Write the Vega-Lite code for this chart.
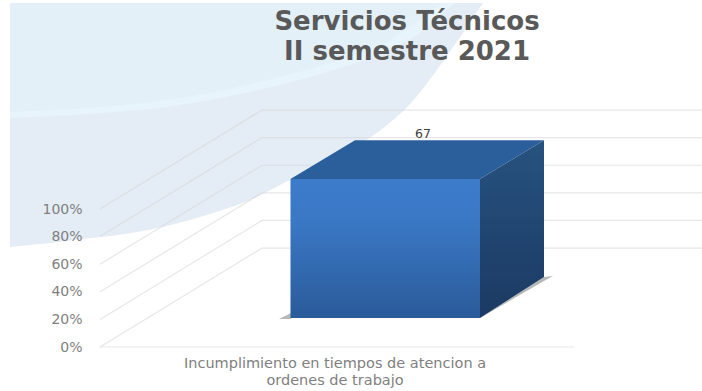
{"$schema":"https://vega.github.io/schema/vega-lite/v6.json","width":702,"height":391,"padding":0,"autosize":"none","background":"white","config":{"view":{"stroke":null}},
"encoding":{"x":{"field":"x","type":"quantitative","scale":{"domain":[0,702],"nice":false,"zero":false},"axis":null},"y":{"field":"v","type":"quantitative","title":null,"scale":{"domain":[-31.88,251.45],"nice":false,"zero":false},"axis":{"values":[0,20,40,60,80,100],"labelExpr":"datum.value + '%'","domain":false,"ticks":false,"grid":false,"offset":-82,"labelPadding":0,"zindex":1,"labelFont":"DejaVu Sans","labelFontSize":14,"labelColor":"#7f7f7f","title":null}},"y2":{"field":"v2"}},
"layer":[
{"data":{"values":[{"x":10,"v":72.5,"v2":249.3},{"x":50,"v":75.4,"v2":249.3},{"x":83,"v":78.3,"v2":249.3},{"x":125,"v":81.9,"v2":249.3},{"x":167,"v":87.7,"v2":249.3},{"x":210,"v":96.4,"v2":249.3},{"x":250,"v":106.5,"v2":249.3},{"x":290,"v":121,"v2":249.3},{"x":330,"v":135.5,"v2":249.3},{"x":371,"v":152.2,"v2":249.3},{"x":411,"v":176.8,"v2":249.3},{"x":451,"v":215.2,"v2":249.3},{"x":483,"v":249.3,"v2":249.3}]},"mark":{"type":"area","color":"#e4edf6","interpolate":"monotone"}},
{"data":{"values":[{"x":10,"v":165.9,"v2":249.3},{"x":100,"v":169.6,"v2":249.3},{"x":167,"v":173.9,"v2":249.3},{"x":220,"v":180.4,"v2":249.3},{"x":267,"v":187.7,"v2":249.3},{"x":310,"v":195.7,"v2":249.3},{"x":350,"v":204.3,"v2":249.3},{"x":384,"v":213.8,"v2":249.3},{"x":418,"v":226.8,"v2":249.3},{"x":440,"v":240.6,"v2":249.3},{"x":455,"v":249.3,"v2":249.3}]},"mark":{"type":"area","color":"#e7f4fb","interpolate":"monotone"}},
{"data":{"values":[{"x":10,"v":170.3,"v2":249.3},{"x":100,"v":173.9,"v2":249.3},{"x":167,"v":179,"v2":249.3},{"x":220,"v":185.5,"v2":249.3},{"x":267,"v":193.5,"v2":249.3},{"x":310,"v":201.4,"v2":249.3},{"x":350,"v":210.1,"v2":249.3},{"x":384,"v":219.6,"v2":249.3},{"x":410,"v":231.9,"v2":249.3},{"x":432,"v":244.2,"v2":249.3},{"x":443,"v":249.3,"v2":249.3}]},"mark":{"type":"area","color":"#e3f0f8","interpolate":"monotone"}},
{"data":{"values":[{"level":0,"x":100,"v":0},{"level":0,"x":262,"v":71.7},{"level":0,"x":702,"v":71.7},{"level":20,"x":100,"v":20},{"level":20,"x":262,"v":91.7},{"level":20,"x":702,"v":91.7},{"level":40,"x":100,"v":40},{"level":40,"x":262,"v":111.7},{"level":40,"x":702,"v":111.7},{"level":60,"x":100,"v":60},{"level":60,"x":262,"v":131.7},{"level":60,"x":702,"v":131.7},{"level":80,"x":100,"v":80},{"level":80,"x":262,"v":151.7},{"level":80,"x":702,"v":151.7},{"level":100,"x":100,"v":100},{"level":100,"x":262,"v":171.7},{"level":100,"x":702,"v":171.7}]},"mark":{"type":"line","color":"#d4d4d4","opacity":0.55,"strokeWidth":1.2},"encoding":{"detail":{"field":"level"},"y2":null}},
{"data":{"values":[{"x":100,"v":0},{"x":574,"v":0}]},"mark":{"type":"line","color":"#d4d4d4","opacity":0.55,"strokeWidth":1.2},"encoding":{"y2":null}},
{"data":{"values":[{"x":480,"v":21,"v2":21},{"x":544,"v":50.7,"v2":47.8},{"x":553,"v":51.4,"v2":51.4}]},"mark":{"type":"area","color":"#9a9a9a","opacity":0.7}},
{"data":{"values":[{"x":279,"v":20.3,"v2":20.3},{"x":291,"v":24.6,"v2":20.3}]},"mark":{"type":"area","color":"#9a9a9a","opacity":0.7}},
{"data":{"values":[{"x":290.5,"v":121.7,"v2":121.7},{"x":355,"v":149.9,"v2":121.7},{"x":480,"v":149.9,"v2":121.7},{"x":544,"v":149.9,"v2":149.9}]},"mark":{"type":"area","color":"#2b5f9c"}},
{"data":{"values":[{"x":480,"v":121.7,"v2":21},{"x":544,"v":149.9,"v2":50.7}]},"mark":{"type":"area","color":{"x1":0,"y1":0,"x2":0,"y2":1,"gradient":"linear","stops":[{"offset":0,"color":"#27527f"},{"offset":1,"color":"#1b3a63"}]}}},
{"data":{"values":[{"x":290.5,"x2":480,"v":121.7,"v2":21}]},"mark":{"type":"rect","color":{"x1":0,"y1":0,"x2":0,"y2":1,"gradient":"linear","stops":[{"offset":0,"color":"#3c7cca"},{"offset":0.3,"color":"#3a78c5"},{"offset":1,"color":"#2a5b9a"}]}},"encoding":{"x2":{"field":"x2"}}},
{"data":{"values":[{"x":423,"v":154.3,"label":"67"}]},"mark":{"type":"text","font":"DejaVu Sans","fontSize":12.5,"color":"#404040"},"encoding":{"text":{"field":"label"},"y2":null}},
{"data":{"values":[{"x":407,"v":235.5,"label":"Servicios Técnicos"},{"x":407,"v":213.8,"label":"II semestre 2021"}]},"mark":{"type":"text","font":"DejaVu Sans","fontWeight":"bold","fontSize":26,"color":"#595959"},"encoding":{"text":{"field":"label"},"y2":null}},
{"data":{"values":[{"x":335,"v":-12.6,"label":"Incumplimiento en tiempos de atencion a"},{"x":335,"v":-24.8,"label":"ordenes de trabajo"}]},"mark":{"type":"text","font":"DejaVu Sans","fontSize":14.5,"color":"#7f7f7f"},"encoding":{"text":{"field":"label"},"y2":null}}
]}
